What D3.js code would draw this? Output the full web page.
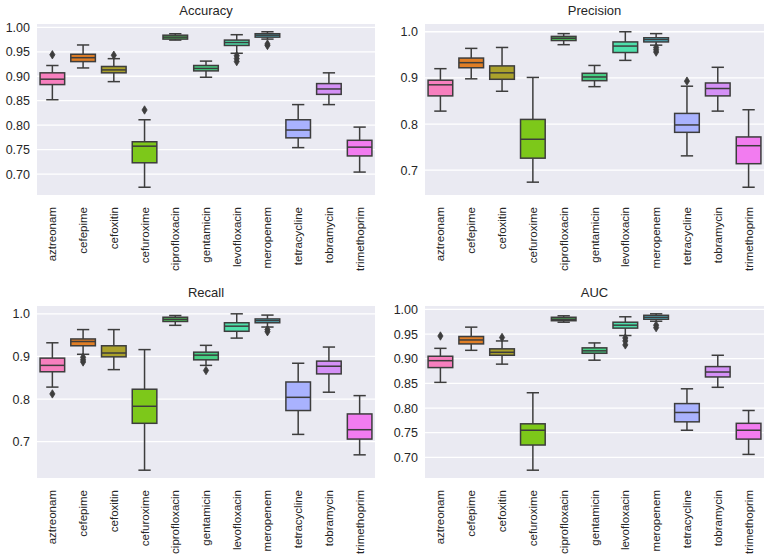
<!DOCTYPE html>
<html>
<head>
<meta charset="utf-8">
<script src="https://cdn.jsdelivr.net/npm/d3@7"></script>
<style>
  html, body { margin: 0; padding: 0; background: #ffffff; }
  svg { display: block; font-family: "Liberation Sans", Arial, sans-serif; }
</style>
</head>
<body>
<svg id="chart" width="768" height="556"></svg>
<script>
// ---------- data ----------
const categories = ["aztreonam","cefepime","cefoxitin","cefuroxime","ciprofloxacin","gentamicin","levofloxacin","meropenem","tetracycline","tobramycin","trimethoprim"];
const boxColors = ["#f77fbe","#e07e26","#aaa12b","#7dc81a","#4ec85a","#48d084","#4ee0ab","#52c6da","#a9b2fe","#d490f6","#f27cf0"];

// [whiskerLow, q1, median, q3, whiskerHigh]
const accuracyStats = [
  [0.852,0.883,0.894,0.907,0.922],[0.917,0.930,0.938,0.945,0.964],[0.889,0.907,0.913,0.920,0.936],
  [0.673,0.723,0.757,0.766,0.811],[0.974,0.976,0.980,0.984,0.987],[0.898,0.911,0.916,0.922,0.931],
  [0.947,0.963,0.969,0.974,0.985],[0.976,0.980,0.984,0.987,0.991],[0.754,0.774,0.790,0.811,0.842],
  [0.842,0.863,0.874,0.885,0.907],[0.704,0.737,0.755,0.769,0.796]];
const accuracyOutliers = [[0.944],[],[0.943],[0.831],[],[],[0.942,0.936,0.930],[0.966,0.963],[],[],[]];

const precisionStats = [
  [0.828,0.861,0.885,0.895,0.920],[0.898,0.922,0.933,0.943,0.964],[0.871,0.897,0.911,0.926,0.966],
  [0.674,0.726,0.767,0.810,0.901],[0.972,0.981,0.986,0.990,0.996],[0.881,0.894,0.902,0.910,0.927],
  [0.938,0.955,0.969,0.978,1.000],[0.971,0.978,0.983,0.987,0.996],[0.731,0.782,0.798,0.823,0.882],
  [0.828,0.861,0.877,0.889,0.923],[0.663,0.714,0.753,0.772,0.831]];
const precisionOutliers = [[],[],[],[],[],[],[],[0.966,0.961,0.956],[0.893],[],[]];

const recallStats = [
  [0.828,0.864,0.879,0.896,0.932],[0.905,0.925,0.935,0.941,0.963],[0.869,0.899,0.908,0.925,0.963],
  [0.633,0.743,0.783,0.823,0.916],[0.973,0.982,0.987,0.992,0.996],[0.879,0.892,0.903,0.910,0.926],
  [0.943,0.959,0.971,0.979,1.000],[0.969,0.979,0.984,0.988,0.997],[0.717,0.773,0.804,0.840,0.884],
  [0.816,0.859,0.877,0.889,0.922],[0.669,0.706,0.728,0.765,0.808]];
const recallOutliers = [[0.812],[0.898,0.892,0.887],[],[],[],[0.867],[],[0.963,0.958],[],[],[]];

const aucStats = [
  [0.852,0.882,0.896,0.905,0.921],[0.917,0.930,0.938,0.945,0.964],[0.889,0.907,0.913,0.920,0.936],
  [0.674,0.725,0.755,0.768,0.831],[0.974,0.977,0.980,0.984,0.987],[0.897,0.911,0.916,0.922,0.932],
  [0.947,0.962,0.968,0.974,0.985],[0.976,0.980,0.984,0.988,0.991],[0.755,0.772,0.791,0.809,0.839],
  [0.842,0.863,0.873,0.884,0.907],[0.706,0.737,0.755,0.769,0.795]];
const aucOutliers = [[0.946],[],[0.943],[],[],[],[0.942,0.936,0.928],[0.968,0.963],[],[],[]];

const panelTitles = ["Accuracy","Precision","Recall","AUC"];
const accuracyTicks = [0.70,0.75,0.80,0.85,0.90,0.95,1.00];
const precisionTicks = [0.7,0.8,0.9,1.0];
const recallTicks = [0.7,0.8,0.9,1.0];
const aucTicks = [0.70,0.75,0.80,0.85,0.90,0.95,1.00];

// ---------- layout ----------
const panels = [
  {title: panelTitles[0], stats: accuracyStats, out: accuracyOutliers, ticks: accuracyTicks, fmt: ".2f", x0: 37,  x1: 375, y0: 24,  y1: 195},
  {title: panelTitles[1], stats: precisionStats, out: precisionOutliers, ticks: precisionTicks, fmt: ".1f", x0: 425, x1: 764, y0: 24,  y1: 195},
  {title: panelTitles[2], stats: recallStats, out: recallOutliers, ticks: recallTicks, fmt: ".1f", x0: 37,  x1: 375, y0: 306, y1: 478},
  {title: panelTitles[3], stats: aucStats, out: aucOutliers, ticks: aucTicks, fmt: ".2f", x0: 425, x1: 764, y0: 306, y1: 478}
];

const svg = d3.select("#chart");
const lineColor = "#3d3d3d";
const bg = "#eaeaf2";

panels.forEach(p => {
  const allVals = [];
  p.stats.forEach((s, i) => { allVals.push(s[0], s[4]); p.out[i].forEach(v => allVals.push(v)); });
  const mn = d3.min(allVals), mx = d3.max(allVals);
  const pad = (mx - mn) * 0.05;
  const y = d3.scaleLinear().domain([mn - pad, mx + pad]).range([p.y1, p.y0]);
  const x = d3.scaleBand().domain(categories).range([p.x0, p.x1]).paddingInner(0).paddingOuter(0);

  const g = svg.append("g");
  g.append("rect").attr("x", p.x0).attr("y", p.y0).attr("width", p.x1 - p.x0).attr("height", p.y1 - p.y0).attr("fill", bg);

  // grid
  g.selectAll("line.grid").data(p.ticks).enter().append("line")
    .attr("x1", p.x0).attr("x2", p.x1)
    .attr("y1", d => y(d)).attr("y2", d => y(d))
    .attr("stroke", "#ffffff").attr("stroke-width", 1.3);

  // y axis
  const yAxis = d3.axisLeft(y).tickValues(p.ticks).tickFormat(d3.format(p.fmt)).tickSize(0).tickPadding(7);
  const ya = g.append("g").attr("transform", `translate(${p.x0},0)`).call(yAxis);
  ya.select(".domain").remove();
  ya.selectAll("text").attr("font-size", 12.5).attr("fill", "#262626").attr("font-family", "Liberation Sans, Arial, sans-serif");

  // x axis labels
  const xAxis = d3.axisBottom(x).tickSize(0).tickPadding(0);
  const xa = g.append("g").attr("transform", `translate(0,${p.y1})`).call(xAxis);
  xa.select(".domain").remove();
  xa.selectAll("text")
    .attr("font-size", 11.5).attr("fill", "#262626").attr("font-family", "Liberation Sans, Arial, sans-serif")
    .attr("text-anchor", "end").attr("dy", null).attr("y", 0)
    .attr("dominant-baseline", "central")
    .attr("transform", "translate(0,12) rotate(-90)");

  // title
  g.append("text").attr("x", (p.x0 + p.x1) / 2).attr("y", p.y0 - 9)
    .attr("text-anchor", "middle").attr("font-size", 13).attr("fill", "#262626").text(p.title);

  const bw = x.bandwidth() * 0.8;
  const boxes = g.selectAll("g.box").data(categories).enter().append("g")
    .attr("transform", d => `translate(${x(d) + x.bandwidth() / 2},0)`);

  boxes.each(function(cat, i) {
    const s = p.stats[i];
    const b = d3.select(this);
    // whiskers
    b.append("line").attr("x1", 0).attr("x2", 0).attr("y1", y(s[3])).attr("y2", y(s[4])).attr("stroke", lineColor).attr("stroke-width", 1.5);
    b.append("line").attr("x1", 0).attr("x2", 0).attr("y1", y(s[1])).attr("y2", y(s[0])).attr("stroke", lineColor).attr("stroke-width", 1.5);
    // caps
    [s[0], s[4]].forEach(v => {
      b.append("line").attr("x1", -bw / 4).attr("x2", bw / 4).attr("y1", y(v)).attr("y2", y(v)).attr("stroke", lineColor).attr("stroke-width", 1.5);
    });
    // box
    b.append("rect").attr("x", -bw / 2).attr("width", bw)
      .attr("y", y(s[3])).attr("height", Math.max(0.5, y(s[1]) - y(s[3])))
      .attr("fill", boxColors[i]).attr("stroke", lineColor).attr("stroke-width", 1.5);
    // median
    b.append("line").attr("x1", -bw / 2).attr("x2", bw / 2).attr("y1", y(s[2])).attr("y2", y(s[2])).attr("stroke", lineColor).attr("stroke-width", 1.5);
    // outliers (thin diamonds)
    p.out[i].forEach(v => {
      const cy = y(v);
      b.append("path").attr("d", `M0,${cy - 4.2}L2.6,${cy}L0,${cy + 4.2}L-2.6,${cy}Z`)
        .attr("fill", lineColor).attr("stroke", lineColor).attr("stroke-width", 0.8);
    });
  });
});
</script>
</body>
</html>
